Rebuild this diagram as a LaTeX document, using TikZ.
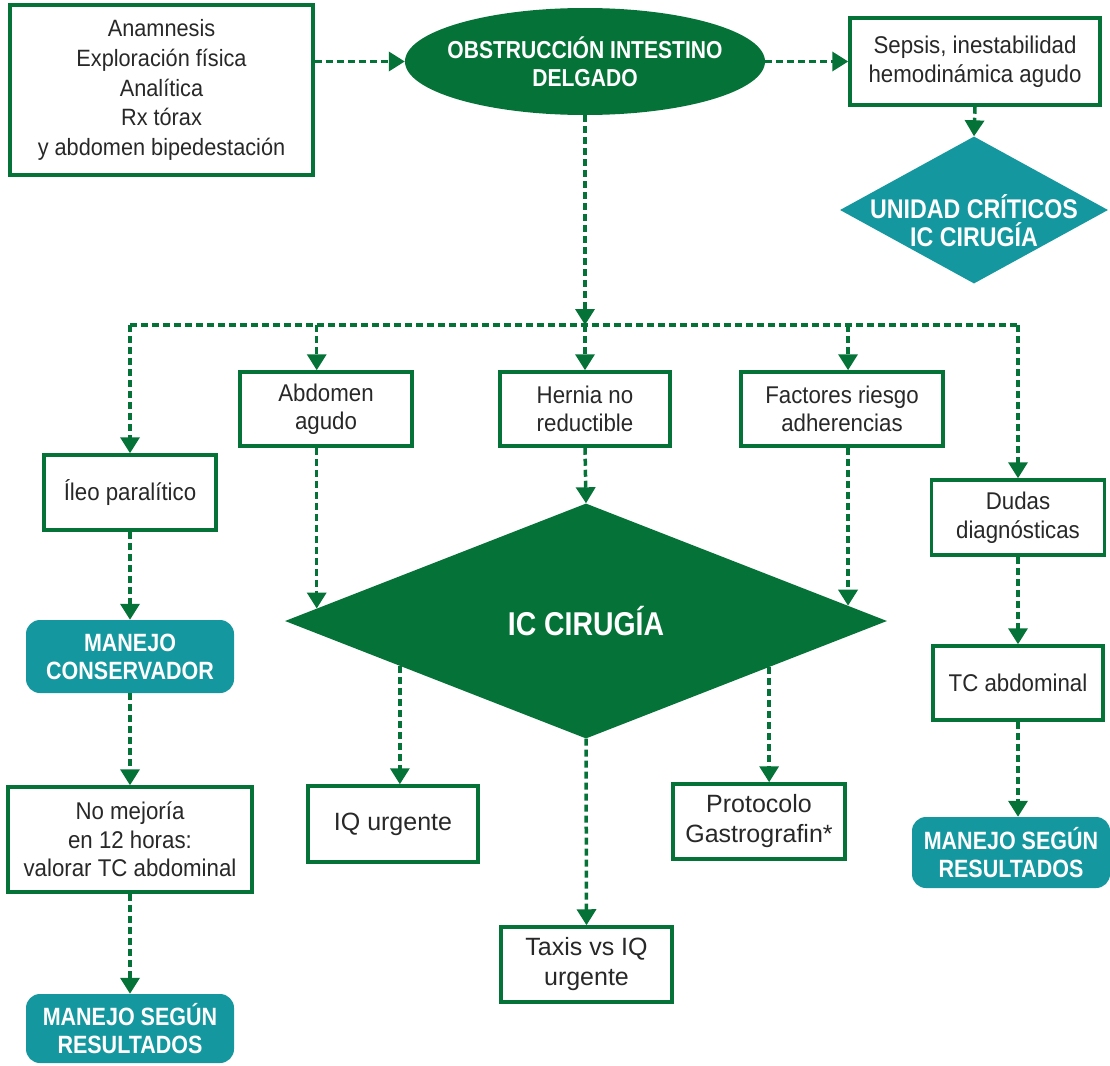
\documentclass[tikz,border=0pt]{standalone}
\usepackage{fontspec}
\setmainfont{Liberation Sans}
\newfontfamily\condfont{Liberation Sans}[FakeStretch=0.86]
\newfontfamily\regfont{Liberation Sans}[FakeStretch=0.92]
\usetikzlibrary{shapes.geometric,arrows.meta,calc}
\definecolor{dgreen}{RGB}{5,115,56}
\definecolor{tealc}{RGB}{20,151,158}
\definecolor{tgray}{RGB}{40,40,40}
\begin{document}
\begin{tikzpicture}[x=1pt,y=-1pt,
  box/.style={draw=dgreen,line width=3.5pt,fill=white,inner sep=0pt,align=center,text=tgray,font=\regfont\fontsize{24.2}{28.5}\selectfont},
  boxa/.style={box,font=\fontsize{25}{30}\selectfont},
  tealbox/.style={fill=tealc,rounded corners=14pt,inner sep=0pt,align=center,text=white,font=\condfont\fontsize{25}{28}\selectfont\bfseries},
  conn/.style={draw=dgreen,line width=3.5pt,dash pattern=on 7pt off 4pt},
  arr/.style={conn,-{Triangle[width=19pt,length=16pt]}},
]
\useasboundingbox (0,0) rectangle (1110,1065);

% top row
\node[box,minimum width=303pt,minimum height=170pt,font=\regfont\fontsize{23.6}{29.7}\selectfont] (info) at (161.5,90)
  {Anamnesis\\Exploración física\\Analítica\\Rx tórax\\y abdomen bipedestación};
\node[ellipse,fill=dgreen,minimum width=360pt,minimum height=107pt,inner sep=0pt,
  label={[align=center,text=white,inner sep=0pt,font=\condfont\fontsize{24.5}{28}\selectfont\bfseries]center:OBSTRUCCIÓN INTESTINO\\DELGADO}]
  (obs) at (585,61.5) {};
\node[box,minimum width=250pt,minimum height=87pt] (sepsis) at (975,61.5)
  {Sepsis, inestabilidad\\hemodinámica agudo};
\node[diamond,fill=tealc,minimum width=268pt,minimum height=147pt,inner sep=0pt,
  label={[align=center,text=white,inner sep=0pt,yshift=-11pt,font=\condfont\fontsize{27}{28}\selectfont\bfseries]center:UNIDAD CRÍTICOS\\IC CIRUGÍA}]
  (ucrit) at (974,210) {};

\coordinate (bus) at (585,325);

% second row
\node[box,minimum width=172pt,minimum height=75pt] (ileo) at (130,492.5) {Íleo paralítico};
\node[box,minimum width=172pt,minimum height=74pt] (abd) at (326,409) {Abdomen\\agudo};
\node[box,minimum width=170pt,minimum height=74pt] (hernia) at (585,409) {Hernia no\\reductible};
\node[box,minimum width=202pt,minimum height=74pt] (fact) at (842,409) {Factores riesgo\\adherencias};
\node[box,minimum width=173pt,minimum height=75pt] (dudas) at (1018,517.5) {Dudas\\diagnósticas};

% big diamond
\node[diamond,fill=dgreen,minimum width=602pt,minimum height=235pt,inner sep=0pt,text=white,
  font=\condfont\fontsize{33}{36}\selectfont\bfseries] (ic) at (586,621) {IC CIRUGÍA};
\path (ic.west) -- (ic.north) coordinate[pos=0.106] (ea);
\path (ic.north) -- (ic.east) coordinate[pos=0.870] (ec);
\path (ic.west) -- (ic.south) coordinate[pos=0.382] (eb);
\path (ic.south) -- (ic.east) coordinate[pos=0.608] (ed);

% left column
\node[tealbox,minimum width=208pt,minimum height=73pt] (mcons) at (130,656.5) {MANEJO\\CONSERVADOR};
\node[box,minimum width=244pt,minimum height=105pt] (nomej) at (130,839.5) {No mejoría\\en 12 horas:\\valorar TC abdominal};
\node[tealbox,minimum width=208pt,minimum height=69pt] (mres1) at (130,1028.5) {MANEJO SEGÚN\\RESULTADOS};

% right column
\node[box,minimum width=170pt,minimum height=74pt] (tc) at (1018,683) {TC abdominal};
\node[tealbox,minimum width=198pt,minimum height=71pt] (mres2) at (1011,852.5) {MANEJO SEGÚN\\RESULTADOS};

% bottom boxes
\node[boxa,minimum width=170pt,minimum height=76pt] (iq) at (393,824) {IQ urgente};
\node[boxa,minimum width=171pt,minimum height=75pt] (taxis) at (586.5,964.5) {Taxis vs IQ\\urgente};
\node[boxa,minimum width=172pt,minimum height=75pt] (proto) at (759,821.5) {Protocolo\\Gastrografin*};

% connectors
\draw[arr] (info.east |- obs.west) -- (obs.west);
\draw[arr] (obs.east) -- (sepsis.west);
\draw[arr] (sepsis.south) -- (ucrit.north);
\draw[conn] (ileo.north |- bus) -- (dudas.north |- bus);
\draw[arr] (obs.south) -- (bus);
\draw[arr] (ileo.north |- bus) -- (ileo.north);
\draw[arr] (bus -| ea) -- (abd.north -| ea);
\draw[arr] (bus) -- (hernia.north);
\draw[arr] (bus -| ec) -- (fact.north -| ec);
\draw[arr] (dudas.north |- bus) -- (dudas.north);

\draw[arr] (abd.south -| ea) -- (ea);
\draw[arr] (hernia.south) -- (ic.north);
\draw[arr] (fact.south -| ec) -- (ec);

\draw[arr] (ileo.south) -- (mcons.north);
\draw[arr] (mcons.south) -- (nomej.north);
\draw[arr] (nomej.south) -- (mres1.north);

\draw[arr] (dudas.south) -- (tc.north);
\draw[arr] (tc.south) -- (tc.south |- mres2.north);

\draw[arr] (eb) -- (iq.north -| eb);
\draw[arr] (ic.south) -- (taxis.north);
\draw[arr] (ed) -- (proto.north -| ed);
\end{tikzpicture}
\end{document}
